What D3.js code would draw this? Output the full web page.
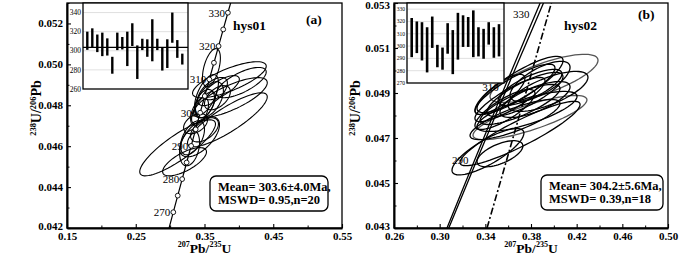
<!DOCTYPE html>
<html>
<head>
<meta charset="utf-8">
<script src="https://cdn.jsdelivr.net/npm/d3@7"></script>
<style>
body { margin: 0; background: #fff; }
svg { display: block; }
text { font-family: "Liberation Serif", "Times New Roman", serif; fill: #000; }
</style>
</head>
<body>
<div id="chart"></div>
<script>
// ---------------------------------------------- data ----------------------------------------------

// concordia points (age in Ma, 207Pb/235U, 206Pb/238U)
const concAges = [260, 265, 270, 275, 280, 285, 290, 295, 300, 305, 310, 315, 320, 325, 330, 335, 340];
const concX = [0.29183, 0.29821, 0.30462, 0.31106, 0.31753, 0.32403, 0.33057, 0.33714, 0.34374,
               0.35037, 0.35704, 0.36374, 0.37047, 0.37723, 0.38403, 0.39086, 0.39773];
const concY = [0.041157, 0.041965, 0.042773, 0.043582, 0.044392, 0.045202, 0.046014, 0.046825, 0.047637,
               0.048450, 0.049264, 0.050078, 0.050893, 0.051708, 0.052524, 0.053341, 0.054158];

// second line of the concordia band in (b)
const bandAges = [270, 280, 290, 300, 310, 320, 330, 340];
const bandX = [0.3061, 0.3193, 0.3325, 0.3459, 0.3594, 0.3731, 0.3869, 0.4008];
const bandY = [0.042773, 0.044392, 0.046014, 0.047637, 0.049264, 0.050893, 0.052524, 0.054158];

// dash-dot line in (b)
const dashX = [0.3415, 0.3642, 0.3984];
const dashY = [0.043, 0.047, 0.0531];

const markAgesA = [270, 275, 280, 285, 290, 295, 300, 305, 310, 315, 320, 325, 330];
const labelAgesA = [270, 280, 290, 300, 310, 320, 330];
const labelAgesB = [290, 310, 330];

// error ellipses: [207Pb/235U, 206Pb/238U, sx, sy, rho]
const ellipsesA = [
    [0.3601, 0.04984, 0.0130, 0.00093, 0.5],
    [0.3862, 0.04925, 0.0536, 0.00088, 0.75],
    [0.4036, 0.04911, 0.0362, 0.00074, 0.7],
    [0.3877, 0.04837, 0.0536, 0.00098, 0.75],
    [0.3833, 0.04729, 0.0580, 0.00132, 0.85],
    [0.3109, 0.04592, 0.0551, 0.00137, 0.85],
    [0.3529, 0.04852, 0.0174, 0.00098, 0.6],
    [0.3572, 0.04827, 0.0203, 0.00088, 0.5],
    [0.3500, 0.04808, 0.0145, 0.00069, 0.4],
    [0.3616, 0.04867, 0.0217, 0.00069, 0.6],
    [0.3428, 0.04769, 0.0130, 0.00069, 0.5],
    [0.3688, 0.04837, 0.0188, 0.00059, 0.5],
    [0.3486, 0.04788, 0.0174, 0.00078, 0.7],
    [0.3428, 0.04646, 0.0290, 0.00098, 0.6],
    [0.3283, 0.04592, 0.0145, 0.00088, 0.3],
    [0.3210, 0.04524, 0.0319, 0.00069, 0.7],
    [0.3500, 0.04680, 0.0203, 0.00059, 0.5],
    [0.3326, 0.04641, 0.0174, 0.00083, 0.5],
    [0.3746, 0.04886, 0.0261, 0.00059, 0.7],
    [0.3370, 0.04710, 0.0174, 0.00049, 0.4]
];
const ellipsesB = [
    [0.3914, 0.04965, 0.0473, 0.00107, 0.75],
    [0.3791, 0.04791, 0.0499, 0.00098, 0.8],
    [0.3765, 0.04818, 0.0438, 0.00089, 0.75],
    [0.3423, 0.04639, 0.0315, 0.00103, 0.8],
    [0.3528, 0.04630, 0.0201, 0.00058, 0.6],
    [0.3704, 0.04720, 0.0526, 0.00143, 0.9],
    [0.3704, 0.04938, 0.0377, 0.00125, 0.85],
    [0.3660, 0.04916, 0.0350, 0.00112, 0.85],
    [0.3747, 0.04894, 0.0333, 0.00098, 0.8],
    [0.3616, 0.04871, 0.0307, 0.00098, 0.85],
    [0.3791, 0.04925, 0.0280, 0.00080, 0.75],
    [0.3704, 0.04849, 0.0350, 0.00089, 0.8],
    [0.3572, 0.04827, 0.0263, 0.00089, 0.8],
    [0.3835, 0.04871, 0.0307, 0.00080, 0.7],
    [0.3528, 0.04894, 0.0219, 0.00089, 0.8],
    [0.3879, 0.04952, 0.0263, 0.00089, 0.7],
    [0.3660, 0.04782, 0.0394, 0.00089, 0.8],
    [0.3949, 0.04907, 0.0350, 0.00089, 0.7]
];
const greyB = [0, 1];

// inset age bars: [upper, lower] in Ma
const barsA = [[320, 301], [323.5, 303], [317, 298.6], [319, 294.4], [313, 295], [293.7, 276], [319, 300.7],
               [314.4, 301.4], [320, 284], [328.8, 305], [305.6, 270.5], [312.6, 300.7], [312, 293.7],
               [333, 289], [312.6, 300.7], [303, 279.3], [312, 282], [340, 308.4], [311.2, 292.6], [297, 285.6]];
const barsB = [[322.8, 291], [320, 294.3], [319.4, 288.3], [315.3, 278.6], [324, 298.5], [301, 282.8],
               [298.8, 280.8], [318.6, 293.8], [313, 277.2], [327, 289], [325, 299.3], [323.6, 299.3],
               [329, 291], [315.3, 291.6], [314, 289.7], [319.4, 301.2], [315.3, 290.5], [317.8, 291.6]];

// ticks
const xTicksA = [0.15, 0.25, 0.35, 0.45, 0.55];
const xMinorA = [0.20, 0.30, 0.40, 0.50];
const yTicksA = [0.042, 0.044, 0.046, 0.048, 0.050, 0.052];
const yMinorA = [0.043, 0.045, 0.047, 0.049, 0.051, 0.053];
const xTicksB = [0.26, 0.30, 0.34, 0.38, 0.42, 0.46, 0.50];
const xMinorB = [0.28, 0.32, 0.36, 0.40, 0.44, 0.48];
const yTicksB = [0.043, 0.045, 0.047, 0.049, 0.051, 0.053];
const yMinorB = [0.044, 0.046, 0.048, 0.050, 0.052];
const insetTicksA = [260, 280, 300, 320, 340];
const insetTicksB = [270, 280, 290, 300, 310, 320, 330];

const meanA = ["Mean= 303.6\u00b14.0Ma,", "MSWD= 0.95,n=20"];
const meanB = ["Mean= 304.2\u00b15.6Ma,", "MSWD= 0.39,n=18"];

// ---------------------------------------------- drawing ----------------------------------------------

const svg = d3.select("#chart").append("svg").attr("width", 700).attr("height", 254);

// text with superscripts, parts = [[string, isSup], ...]
function supText(t, parts, size) {
    let up = false;
    parts.forEach(p => {
        const ts = t.append("tspan").text(p[0]);
        if (p[1]) {
            ts.attr("font-size", size * 0.6).attr("dy", up ? 0 : -size * 0.38);
            up = true;
        } else {
            ts.attr("font-size", size).attr("dy", up ? size * 0.38 : 0);
            up = false;
        }
    });
}

function ellipsePts(e) {
    const pts = [];
    const r = Math.sqrt(1 - e[4] * e[4]);
    for (let i = 0; i < 72; i++) {
        const a = i / 72 * 2 * Math.PI;
        pts.push([e[0] + e[2] * Math.cos(a), e[1] + e[3] * (e[4] * Math.cos(a) + r * Math.sin(a))]);
    }
    return pts;
}

function drawPanel(c) {
    const g = svg.append("g");
    const x = d3.scaleLinear().domain(c.xDom).range([c.x0, c.x1]);
    const y = d3.scaleLinear().domain(c.yDom).range([c.y1, c.y0]);

    g.append("clipPath").attr("id", c.id + "clip")
        .append("rect").attr("x", c.x0).attr("y", c.y0).attr("width", c.x1 - c.x0).attr("height", c.y1 - c.y0);
    const plot = g.append("g").attr("clip-path", "url(#" + c.id + "clip)");

    const line = d3.line().x(d => x(d[0])).y(d => y(d[1]));
    const closed = d3.line().x(d => x(d[0])).y(d => y(d[1])).curve(d3.curveLinearClosed);

    // error ellipses
    plot.selectAll(".ell").data(c.ellipses).join("path")
        .attr("d", d => closed(ellipsePts(d)))
        .attr("fill", "none")
        .attr("stroke", (d, i) => c.grey.includes(i) ? "#555" : "#000")
        .attr("stroke-width", c.ellW);

    // concordia
    const conc = concAges.map((a, i) => [concX[i], concY[i]]);
    plot.append("path").attr("d", line(conc)).attr("fill", "none").attr("stroke", "#000").attr("stroke-width", c.concW);

    if (c.band) {
        const band = bandAges.map((a, i) => [bandX[i], bandY[i]]);
        plot.append("path").attr("d", d3.line().x(d => x(d[0])).y(d => y(d[1])).curve(d3.curveMonotoneY)(band))
            .attr("fill", "none").attr("stroke", "#000").attr("stroke-width", 1.3);
        const dash = dashX.map((v, i) => [v, dashY[i]]);
        plot.append("path").attr("d", d3.line().x(d => x(d[0])).y(d => y(d[1])).curve(d3.curveMonotoneY)(dash))
            .attr("fill", "none").attr("stroke", "#000").attr("stroke-width", 1.6)
            .attr("stroke-dasharray", "7,2.5,2,2.5");
    }

    // age markers
    const ageIdx = a => concAges.indexOf(a);
    plot.selectAll(".mk").data(c.marks).join("circle")
        .attr("cx", a => x(concX[ageIdx(a)]))
        .attr("cy", a => y(concY[ageIdx(a)]))
        .attr("r", 2.4)
        .attr("fill", "#fff").attr("stroke", "#000").attr("stroke-width", 0.9);

    g.selectAll(".al").data(c.labels).join("text")
        .attr("x", a => x(concX[ageIdx(a)]) - c.labDx)
        .attr("y", a => y(concY[ageIdx(a)]) + 4)
        .attr("text-anchor", "end")
        .attr("font-size", 11)
        .attr("fill", "#000")
        .text(a => a);

    // frame
    g.append("rect").attr("x", c.x0).attr("y", c.y0).attr("width", c.x1 - c.x0).attr("height", c.y1 - c.y0)
        .attr("fill", "none").attr("stroke", "#000").attr("stroke-width", 1.3);

    // axes
    const xAxis = d3.axisBottom(x).tickValues(c.xTicks).tickFormat(d3.format(".2f"))
        .tickSizeInner(-4).tickSizeOuter(0).tickPadding(4);
    const gx = g.append("g").attr("transform", "translate(0," + c.y1 + ")").call(xAxis);
    g.append("g").attr("transform", "translate(0," + c.y1 + ")")
        .call(d3.axisBottom(x).tickValues(c.xMinor).tickFormat("").tickSizeInner(-2.5).tickSizeOuter(0))
        .select(".domain").remove();

    const yAxis = d3.axisLeft(y).tickValues(c.yTicks).tickFormat(d3.format(".3f"))
        .tickSizeInner(-4).tickSizeOuter(0).tickPadding(4);
    const gy = g.append("g").attr("transform", "translate(" + c.x0 + ",0)").call(yAxis);
    g.append("g").attr("transform", "translate(" + c.x0 + ",0)")
        .call(d3.axisLeft(y).tickValues(c.yMinor).tickFormat("").tickSizeInner(-2.5).tickSizeOuter(0))
        .select(".domain").remove();

    [gx, gy].forEach(a => {
        a.select(".domain").attr("stroke-width", 2);
        a.selectAll("text").attr("font-family", "Liberation Serif").attr("font-size", 11)
            .attr("font-weight", "bold").attr("fill", "#000");
        a.selectAll("line").attr("stroke-width", 1.1);
    });
    gy.selectAll("text").filter(d => d === c.yDom[1]).attr("dy", "0.5em");
    gy.selectAll("text").filter(d => d === c.yDom[0]).attr("dy", "0.15em");
    g.selectAll("g.tick line").attr("stroke", "#000");

    // axis titles
    const xt = g.append("text").attr("x", (c.x0 + c.x1) / 2).attr("y", 252.5)
        .attr("text-anchor", "middle").attr("font-weight", "bold");
    supText(xt, [["207", true], ["Pb/", false], ["235", true], ["U", false]], 13.5);

    const yt = g.append("text")
        .attr("transform", "translate(" + c.yTitleX + ",108) rotate(-90)")
        .attr("text-anchor", "middle").attr("font-weight", "bold");
    supText(yt, [["238", true], ["U/", false], ["206", true], ["Pb", false]], 14);

    // inset
    const ins = c.inset;
    const iy = d3.scaleLinear().domain(ins.dom).range([ins.y + ins.h, ins.y]);
    const ix = d3.scalePoint().domain(d3.range(ins.bars.length)).range([ins.x + ins.padL, ins.x + ins.w - ins.padR]);
    const gi = g.append("g");
    gi.append("rect").attr("x", ins.x).attr("y", ins.y).attr("width", ins.w).attr("height", ins.h)
        .attr("fill", "#fff");
    gi.selectAll(".grid").data(ins.ticks.slice(1)).join("line")
        .attr("x1", ins.x).attr("x2", ins.x + ins.w)
        .attr("y1", d => iy(d)).attr("y2", d => iy(d))
        .attr("stroke", "#d8d8d8").attr("stroke-width", 0.8);
    if (ins.mean) {
        gi.append("line").attr("x1", ins.x).attr("x2", ins.x + ins.w)
            .attr("y1", iy(ins.mean)).attr("y2", iy(ins.mean))
            .attr("stroke", "#000").attr("stroke-width", 1.1);
    }
    gi.selectAll(".bar").data(ins.bars).join("line")
        .attr("x1", (d, i) => ix(i)).attr("x2", (d, i) => ix(i))
        .attr("y1", d => iy(d[0])).attr("y2", d => iy(d[1]))
        .attr("stroke", "#000").attr("stroke-width", ins.barW);
    gi.append("rect").attr("x", ins.x).attr("y", ins.y).attr("width", ins.w).attr("height", ins.h)
        .attr("fill", "none").attr("stroke", "#000").attr("stroke-width", 1.3);
    gi.selectAll(".itl").data(ins.ticks).join("text")
        .attr("x", ins.x - 2).attr("y", d => iy(d))
        .attr("dy", "0.35em").attr("text-anchor", "end")
        .attr("font-size", ins.fs).attr("fill", "#333")
        .text(d => d);

    // sample name and panel letter
    g.append("text").attr("x", c.name[1]).attr("y", 30).attr("font-size", 13.5).attr("font-weight", "bold").text(c.name[0]);
    g.append("text").attr("x", c.letter[1]).attr("y", c.letter[2]).attr("font-size", 13.5).attr("font-weight", "bold").text(c.letter[0]);

    // mean box
    const b = c.box;
    g.append("rect").attr("x", b[0]).attr("y", b[1]).attr("width", b[2]).attr("height", b[3])
        .attr("rx", 6).attr("fill", "#fff").attr("stroke", "#000").attr("stroke-width", 1.3);
    g.selectAll(".mt").data(c.mean).join("text")
        .attr("x", b[0] + 8).attr("y", (d, i) => b[1] + 15 + i * 13)
        .attr("font-size", 12.5).attr("font-weight", "bold")
        .text(d => d);
}

drawPanel({
    id: "a", x0: 67, x1: 342, y0: 3, y1: 228,
    xDom: [0.15, 0.55], yDom: [0.042, 0.053],
    xTicks: xTicksA, xMinor: xMinorA, yTicks: yTicksA, yMinor: yMinorA,
    ellipses: ellipsesA, grey: [], ellW: 1.1, concW: 1.2, band: false,
    marks: markAgesA, labels: labelAgesA, labDx: 3,
    yTitleX: 41,
    inset: { x: 83, y: 3, w: 105, h: 86, dom: [260, 350], ticks: insetTicksA, bars: barsA,
             mean: 303.6, padL: 4.3, padR: 5.7, barW: 2.4, fs: 7.5 },
    name: ["hys01", 233], letter: ["(a)", 306, 24],
    box: [210, 176, 118, 35], mean: meanA
});

drawPanel({
    id: "b", x0: 394, x1: 668, y0: 3, y1: 228,
    xDom: [0.26, 0.50], yDom: [0.043, 0.053],
    xTicks: xTicksB, xMinor: xMinorB, yTicks: yTicksB, yMinor: yMinorB,
    ellipses: ellipsesB, grey: greyB, ellW: 1.3, concW: 1.3, band: true,
    marks: [], labels: labelAgesB, labDx: 6,
    yTitleX: 360,
    inset: { x: 407, y: 3, w: 97, h: 80, dom: [270, 335], ticks: insetTicksB, bars: barsB,
             mean: null, padL: 4.7, padR: 5, barW: 2.6, fs: 5.5 },
    name: ["hys02", 564], letter: ["(b)", 638, 19],
    box: [541, 175, 122, 35], mean: meanB
});
</script>
</body>
</html>
